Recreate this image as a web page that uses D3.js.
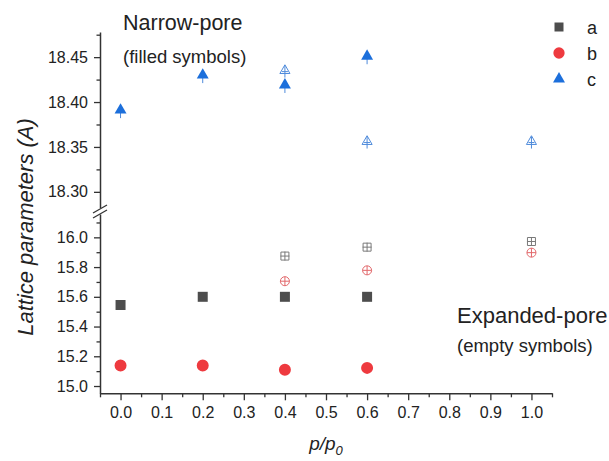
<!DOCTYPE html>
<html>
<head>
<meta charset="utf-8">
<script src="https://cdn.jsdelivr.net/npm/d3@7"></script>
<style>
    body { margin: 0; background: #fff; }
    svg { display: block; font-family: Arial, "Liberation Sans", sans-serif; }
</style>
</head>
<body>
<svg id="the-chart"></svg>
<script>
// Relative pressure values
const pressure = [0.0, 0.2, 0.4, 0.6, 1.0];

// Narrow-pore phase (filled symbols)
const aNarrow = [15.545, 15.60, 15.60, 15.60, null];
const bNarrow = [15.138, 15.138, 15.11, 15.122, null];
const cNarrow = [18.391, 18.430, 18.419, 18.451, null];

// Expanded-pore phase (empty symbols)
const aExpanded = [null, null, 15.874, 15.934, 15.972];
const bExpanded = [null, null, 15.705, 15.778, 15.897];
const cExpanded = [null, null, 18.435, 18.356, 18.356];

const xTicks = [0.0, 0.1, 0.2, 0.3, 0.4, 0.5, 0.6, 0.7, 0.8, 0.9, 1.0];
const upperTicks = [18.30, 18.35, 18.40, 18.45];
const lowerTicks = [15.0, 15.2, 15.4, 15.6, 15.8, 16.0];
const legendLabels = ["a", "b", "c"];

const width = 609;
const height = 461;

const fillColor = {a: "#4d4d4d", b: "#ee3a3f", c: "#1c6fdb"};
const openColor = {a: "#7a7a7a", b: "#e2686b", c: "#4f8bdb"};

const svg = d3.select("#the-chart")
    .attr("width", width)
    .attr("height", height)
    .attr("viewBox", [0, 0, width, height]);

// Scales: one x, and a broken y axis in two parts.
const x = d3.scaleLinear([-0.05, 1.05], [100, 552]);
const yUpper = d3.scaleLinear([18.282, 18.478], [208, 32]);
const yLower = d3.scaleLinear([14.951, 16.157], [393.3, 214]);

const axisColor = "#333";

function styleAxis(g) {
    g.selectAll("path").attr("stroke", axisColor).attr("stroke-width", 1.5);
    g.selectAll("line").attr("stroke", axisColor).attr("stroke-width", 1.3);
    g.selectAll("text").attr("fill", "#222").attr("font-size", 16)
        .attr("font-family", "Arial, 'Liberation Sans', sans-serif");
}

// x axis
svg.append("g")
    .attr("transform", `translate(0,${yLower.range()[0]})`)
    .call(d3.axisBottom(x).tickValues(d3.range(-0.05, 1.06, 0.1)).tickSize(4).tickSizeOuter(0).tickFormat(""))
    .call(g => g.select(".domain").remove())
    .call(styleAxis);
svg.append("g")
    .attr("transform", `translate(0,${yLower.range()[0]})`)
    .call(d3.axisBottom(x).tickValues(xTicks).tickSize(7).tickSizeOuter(0).tickPadding(6).tickFormat(d3.format(".1f")))
    .call(styleAxis);

// y axis, upper part
svg.append("g")
    .attr("transform", `translate(${x.range()[0]},0)`)
    .call(d3.axisLeft(yUpper).tickValues([18.325, 18.375, 18.425, 18.475]).tickSize(3.5).tickSizeOuter(0).tickFormat(""))
    .call(g => g.select(".domain").remove())
    .call(styleAxis);
svg.append("g")
    .attr("transform", `translate(${x.range()[0]},0)`)
    .call(d3.axisLeft(yUpper).tickValues(upperTicks).tickSize(6).tickSizeOuter(0).tickPadding(6).tickFormat(d3.format(".2f")))
    .call(styleAxis);

// y axis, lower part
svg.append("g")
    .attr("transform", `translate(${x.range()[0]},0)`)
    .call(d3.axisLeft(yLower).tickValues([15.1, 15.3, 15.5, 15.7, 15.9, 16.1]).tickSize(3.5).tickSizeOuter(0).tickFormat(""))
    .call(g => g.select(".domain").remove())
    .call(styleAxis);
svg.append("g")
    .attr("transform", `translate(${x.range()[0]},0)`)
    .call(d3.axisLeft(yLower).tickValues(lowerTicks).tickSize(6).tickSizeOuter(0).tickPadding(6).tickFormat(d3.format(".1f")))
    .call(styleAxis);

// axis break marks
const bx = x.range()[0];
const breakG = svg.append("g").attr("stroke", axisColor).attr("stroke-width", 1.3);
breakG.append("rect").attr("x", bx - 2).attr("y", 208).attr("width", 4).attr("height", 6)
    .attr("fill", "#fff").attr("stroke", "none");
[209, 214].forEach(yb => {
    breakG.append("line")
        .attr("x1", bx - 7).attr("y1", yb + 4)
        .attr("x2", bx + 7).attr("y2", yb - 4);
});

// Build point lists
function points(values, key, scale) {
    return pressure.map((p, i) => ({p, v: values[i], key, scale}))
        .filter(d => d.v !== null);
}

const filled = [
    ...points(aNarrow, "a", yLower),
    ...points(bNarrow, "b", yLower),
    ...points(cNarrow, "c", yUpper)
];
const empty = [
    ...points(aExpanded, "a", yLower),
    ...points(bExpanded, "b", yLower),
    ...points(cExpanded, "c", yUpper)
];

const shape = {a: d3.symbolSquare, b: d3.symbolCircle, c: d3.symbolTriangle};
const filledSize = {a: 100, b: 113, c: 62};
const emptySize = {a: 64, b: 64, c: 44};

// small error bars under the triangles
svg.append("g")
    .selectAll()
    .data(filled.filter(d => d.key === "c"))
    .join("line")
        .attr("x1", d => x(d.p)).attr("x2", d => x(d.p))
        .attr("y1", d => d.scale(d.v)).attr("y2", d => d.scale(d.v) + 8)
        .attr("stroke", openColor.c).attr("stroke-width", 1);

// filled symbols
svg.append("g")
    .selectAll()
    .data(filled)
    .join("path")
        .attr("transform", d => `translate(${x(d.p)},${d.scale(d.v)})`)
        .attr("d", d => d3.symbol(shape[d.key], filledSize[d.key])())
        .attr("fill", d => fillColor[d.key]);

// empty symbols with a cross inside
const emptyG = svg.append("g")
    .selectAll()
    .data(empty)
    .join("g")
        .attr("transform", d => `translate(${x(d.p)},${d.scale(d.v)})`);

emptyG.append("path")
    .attr("d", d => d3.symbol(shape[d.key], emptySize[d.key])())
    .attr("fill", "#fff")
    .attr("stroke", d => openColor[d.key])
    .attr("stroke-width", 1);
emptyG.append("line")
    .attr("x1", 0).attr("x2", 0)
    .attr("y1", d => d.key === "c" ? -5 : -4.5)
    .attr("y2", d => d.key === "c" ? 7 : 4.5)
    .attr("stroke", d => openColor[d.key]).attr("stroke-width", 1);
emptyG.append("line")
    .attr("x1", d => d.key === "c" ? -3 : -4.5)
    .attr("x2", d => d.key === "c" ? 3 : 4.5)
    .attr("y1", d => d.key === "c" ? 1 : 0)
    .attr("y2", d => d.key === "c" ? 1 : 0)
    .attr("stroke", d => openColor[d.key]).attr("stroke-width", 1);

// legend
const legend = svg.append("g")
    .selectAll()
    .data(legendLabels)
    .join("g")
        .attr("transform", (d, i) => `translate(559,${27 + i * 26})`);
legend.append("path")
    .attr("d", d => d3.symbol(shape[d], d === "a" ? 81 : d === "b" ? 100 : 62)())
    .attr("fill", d => fillColor[d]);
legend.append("text")
    .attr("x", 28).attr("y", 7)
    .attr("font-size", 18).attr("fill", "#222")
    .text(d => d);

// annotations
const notes = svg.append("g").attr("fill", "#222");
notes.append("text").attr("x", 123).attr("y", 30).attr("font-size", 21.5).text("Narrow-pore");
notes.append("text").attr("x", 123).attr("y", 63).attr("font-size", 18.5).text("(filled symbols)");
notes.append("text").attr("x", 457).attr("y", 323).attr("font-size", 22).text("Expanded-pore");
notes.append("text").attr("x", 457).attr("y", 352).attr("font-size", 18.5).text("(empty symbols)");

// axis titles
const xTitle = svg.append("text")
    .attr("x", (x.range()[0] + x.range()[1]) / 2)
    .attr("y", 450)
    .attr("text-anchor", "middle")
    .attr("font-size", 19)
    .attr("font-style", "italic")
    .attr("fill", "#222");
xTitle.append("tspan").text("p/p");
xTitle.append("tspan").attr("font-size", 13).attr("dy", 5).text("0");

svg.append("text")
    .attr("transform", "translate(33,227) rotate(-90)")
    .attr("text-anchor", "middle")
    .attr("font-size", 22)
    .attr("font-style", "italic")
    .attr("fill", "#222")
    .text("Lattice parameters (A)");
</script>
</body>
</html>
